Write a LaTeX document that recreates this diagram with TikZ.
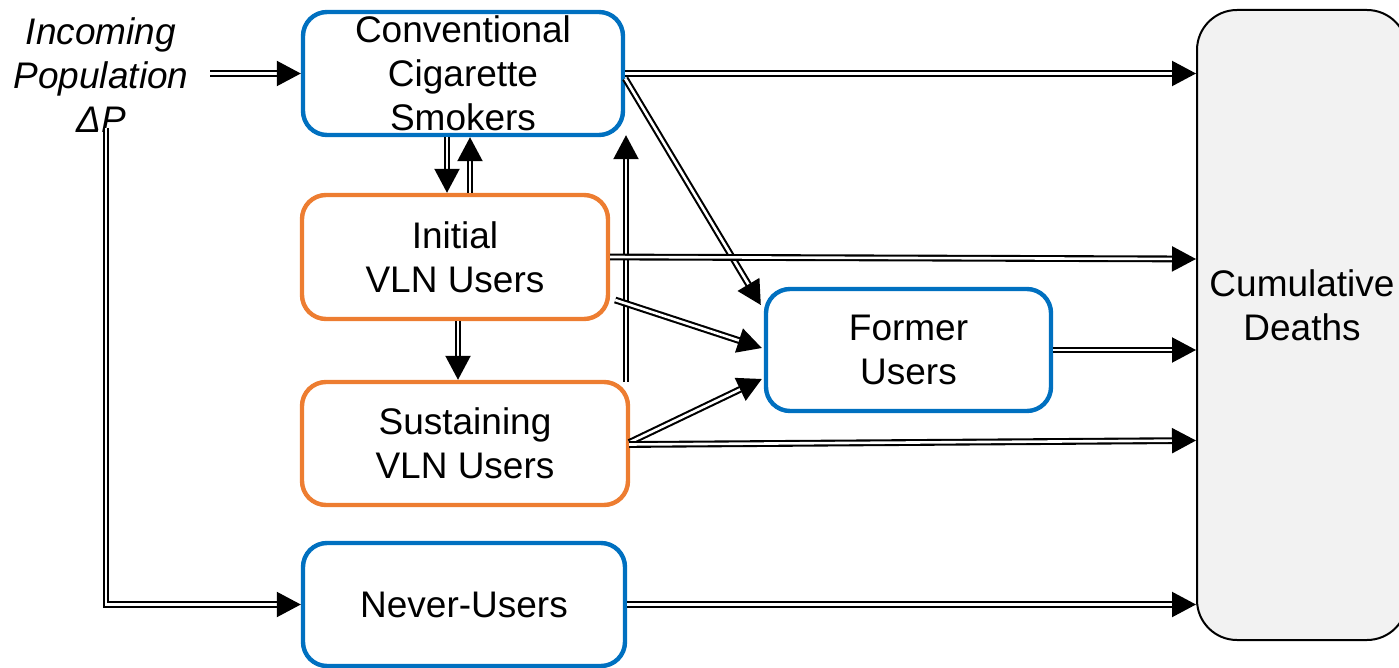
\documentclass[tikz,border=0pt]{standalone}
\usepackage{fontspec}
\setmainfont{Liberation Sans}
\usetikzlibrary{arrows.meta,calc}
\definecolor{cblue}{HTML}{0070C0}
\definecolor{corange}{HTML}{ED7D31}
\definecolor{cgray}{HTML}{F2F2F2}
\begin{document}
\begin{tikzpicture}[x=1pt,y=-1pt,
  box/.style={draw, line width=4.4pt, rounded corners=24pt, align=center, inner sep=0pt,
    font=\fontsize{37pt}{44pt}\selectfont},
  bluebox/.style={box, draw=cblue},
  orangebox/.style={box, draw=corange},
  flow/.style={double, line width=2.1pt, double distance=2.6pt,
    -{Triangle[length=24pt,width=25pt,fill=black]}},
]
\useasboundingbox (0,0) rectangle (1399,668);
\node[bluebox, minimum width=320pt, minimum height=123pt] (ccs) at (463,73.5) {Conventional\\Cigarette\\Smokers};
\node[orangebox, minimum width=306pt, minimum height=124pt] (init) at (455,257) {Initial\\VLN Users};
\node[orangebox, minimum width=326pt, minimum height=123pt] (sust) at (465,443.5) {Sustaining\\VLN Users};
\node[bluebox, minimum width=322pt, minimum height=123pt] (never) at (464,604.5) {Never-Users};
\node[bluebox, minimum width=285pt, minimum height=122pt] (former) at (908.5,350) {Former\\Users};
\node[draw, line width=2pt, fill=cgray, rounded corners=40pt, minimum width=210pt, minimum height=630pt,
  inner sep=0pt,
  label={[align=center, font=\fontsize{37pt}{44pt}\selectfont, yshift=20pt]center:Cumulative\\Deaths}]
  (cum) at (1302,325) {};
\node[align=center, font=\fontsize{37pt}{44pt}\selectfont\itshape] (inc) at (101,75) {Incoming\\Population\\ΔP};
\coordinate (inStart) at (210,73.5);
\coordinate (dpStart) at (106,128);
\coordinate (a4s) at ($(ccs.south)+(-16,0)$);
\coordinate (a4e) at (a4s |- init.north);
\coordinate (a5s) at ($(init.north)+(15,0)$);
\coordinate (a5e) at (a5s |- ccs.south);
\coordinate (a6s) at ($(init.south)+(3,0)$);
\coordinate (a6e) at (a6s |- sust.north);
\coordinate (a7s) at ($(sust.north)+(161,2)$);
\coordinate (a7e) at ($(a7s |- ccs.south)+(0,-2)$);

\draw[flow] (inStart) -- (ccs.west);
\draw[flow] (dpStart) |- (never.west);
\draw[flow] (ccs.east) -- (cum.west |- ccs.east);
\draw[flow] (a4s) -- (a4e);
\draw[flow] (a5s) -- (a5e);
\draw[flow] (a6s) -- (a6e);
\draw[flow] (a7s) -- (a7e);
\draw[flow] ($(ccs.east)+(0,5)$) -- ($(former.west)+(-3,-45)$);
\draw[flow] (init.east) -- ($(cum.west |- init.east)+(0,2)$);
\draw[flow] ($(init.east)+(5,43)$) -- ($(former.west)+(-2,-2)$);
\draw[flow] ($(sust.east)+(-1,-1)$) -- ($(former.west)+(-2,29)$);
\draw[flow] ($(sust.east)+(-1,1)$) -- ($(cum.west |- sust.east)+(0,-3)$);
\draw[flow] (former.east) -- (cum.west |- former.east);
\draw[flow] (never.east) -- (cum.west |- never.east);
\end{tikzpicture}
\end{document}
